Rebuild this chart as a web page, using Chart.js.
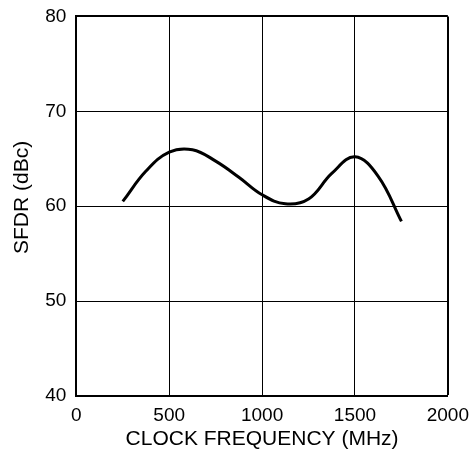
<!DOCTYPE html>
<html lang="en">
<head>
    <meta charset="UTF-8">
    <title>SFDR vs Clock Frequency</title>
    <script src="https://cdn.jsdelivr.net/npm/chart.js"></script>
    <style>
        body {
            margin: 0;
            padding: 0;
            overflow: hidden;
            background-color: #ffffff;
        }
        #chart-container {
            position: absolute;
            left: 0;
            top: -5px;
            width: 477px;
            height: 473px;
        }
    </style>
</head>
<body>
    <div id="chart-container">
        <canvas id="sfdr-chart"></canvas>
    </div>

    <script>
        // clock frequency (MHz) and SFDR (dBc)
        const clockFreq = [250, 375, 500, 625, 750, 875, 1000, 1125, 1250, 1375, 1500, 1625, 1750];
        const sfdr = [60.5, 63.7, 65.7, 65.95, 64.75, 63.05, 61.2, 60.25, 60.75, 63.45, 65.2, 63.15, 58.4];

        const xTicks = [0, 500, 1000, 1500, 2000];
        const yTicks = [40, 50, 60, 70, 80];

        const fontFamily = "'Liberation Sans', Arial, sans-serif";

        const points = clockFreq.map((f, i) => ({ x: f, y: sfdr[i] }));

        const ctx = document.getElementById('sfdr-chart').getContext('2d');
        new Chart(ctx, {
            type: 'line',
            data: {
                datasets: [{
                    data: points,
                    borderColor: '#000000',
                    borderWidth: 3,
                    pointRadius: 0,
                    fill: false,
                    tension: 0.4,
                    borderCapStyle: 'butt'
                }]
            },
            options: {
                responsive: true,
                maintainAspectRatio: false,
                animation: false,
                layout: {
                    padding: { left: 8, right: 16, top: 4, bottom: 16 }
                },
                plugins: {
                    legend: { display: false },
                    tooltip: { enabled: false }
                },
                scales: {
                    x: {
                        type: 'linear',
                        min: xTicks[0],
                        max: xTicks[xTicks.length - 1],
                        afterBuildTicks: axis => { axis.ticks = xTicks.map(v => ({ value: v })); },
                        ticks: {
                            color: '#000000',
                            font: { family: fontFamily, size: 19 },
                            padding: 8,
                            maxRotation: 0,
                            callback: v => String(v)
                        },
                        grid: {
                            color: '#000000',
                            lineWidth: c => (c.tick && c.tick.value === xTicks[xTicks.length - 1]) ? 2 : 1,
                            drawTicks: false
                        },
                        border: { display: true, color: '#000000', width: 2 },
                        title: {
                            display: true,
                            text: 'CLOCK FREQUENCY (MHz)',
                            color: '#000000',
                            font: { family: fontFamily, size: 21 },
                            padding: { top: -8, bottom: 0 }
                        }
                    },
                    y: {
                        min: yTicks[0],
                        max: yTicks[yTicks.length - 1],
                        afterBuildTicks: axis => { axis.ticks = yTicks.map(v => ({ value: v })); },
                        ticks: {
                            color: '#000000',
                            font: { family: fontFamily, size: 19 },
                            padding: 10,
                            callback: v => String(v)
                        },
                        grid: {
                            color: '#000000',
                            lineWidth: c => (c.tick && c.tick.value === yTicks[yTicks.length - 1]) ? 2 : 1,
                            drawTicks: false
                        },
                        border: { display: true, color: '#000000', width: 2 },
                        title: {
                            display: true,
                            // leading spaces nudge the label up a little, as in the original
                            text: '\u00a0\u00a0\u00a0SFDR (dBc)',
                            color: '#000000',
                            font: { family: fontFamily, size: 21 },
                            padding: { top: 2, bottom: 0 }
                        }
                    }
                }
            }
        });
    </script>
</body>
</html>
